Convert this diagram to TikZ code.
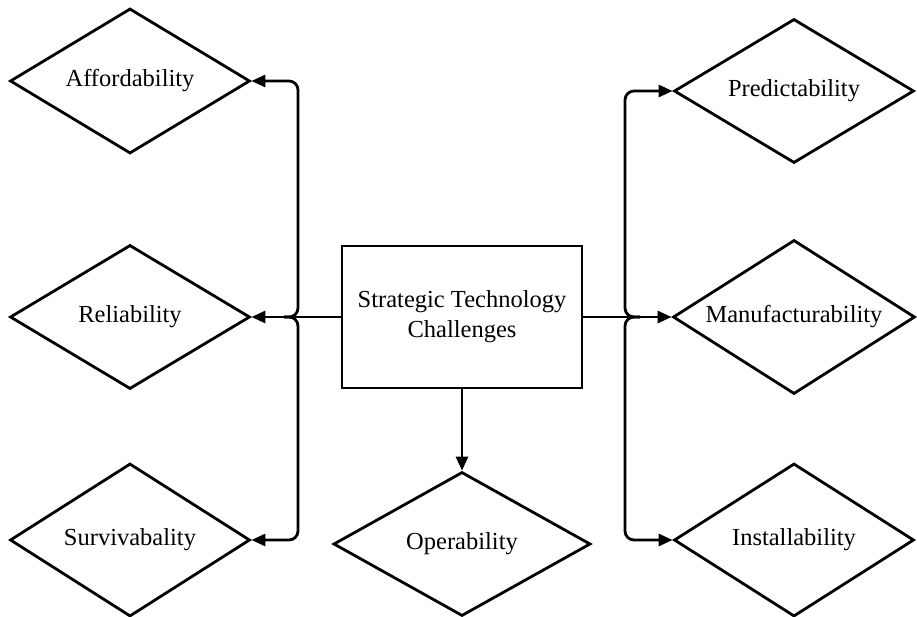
\documentclass[tikz,border=0pt]{standalone}
\usepackage{fontspec}
\setmainfont{Liberation Serif}
\usetikzlibrary{shapes.geometric,arrows.meta}
\begin{document}
\begin{tikzpicture}[x=1pt,y=-1pt,
  lbl/.style={font=\fontsize{24.5}{30}\selectfont},
  dia/.style={diamond,draw,line width=2.8pt,inner sep=0pt,aspect=1.65,lbl},
  box/.style={rectangle,draw,line width=2.8pt,inner sep=0pt,align=center,lbl,
    minimum width=240pt,minimum height=142pt},
  conn/.style={line width=2.8pt,-{Triangle[length=14pt,width=12pt]}},
  bus/.style={conn,rounded corners=9pt}]
\useasboundingbox (0,0) rectangle (917,617);
\node[box] (box) at (462,317) {Strategic Technology\\Challenges};
\node[dia,minimum width=240pt,minimum height=145pt] (aff) at (130,81) {Affordability};
\node[dia,minimum width=240pt,minimum height=144pt] (rel) at (130,317) {Reliability};
\node[dia,minimum width=240pt,minimum height=153pt] (surv) at (130,540) {Survivabality};
\node[dia,minimum width=240pt,minimum height=144pt] (pred) at (794,91) {Predictability};
\node[dia,minimum width=242pt,minimum height=154pt] (manu) at (794,317) {Manufacturability};
\node[dia,minimum width=240pt,minimum height=153pt] (inst) at (794,540) {Installability};
\node[dia,minimum width=257pt,minimum height=144pt] (oper) at (462,544) {Operability};
\coordinate (lj0) at (284,317);
\coordinate (lj) at (298,317);
\coordinate (rj0) at (640,317);
\coordinate (rj) at (625,317);
\draw[conn] (box.west) -- (rel.east);
\draw[bus] (lj0) -- (lj) |- (aff.east);
\draw[bus] (lj0) -- (lj) |- (surv.east);
\draw[conn] (box.east) -- (manu.west);
\draw[bus] (rj0) -- (rj) |- (pred.west);
\draw[bus] (rj0) -- (rj) |- (inst.west);
\draw[conn] (box.south) -- (oper.north);
\end{tikzpicture}
\end{document}
